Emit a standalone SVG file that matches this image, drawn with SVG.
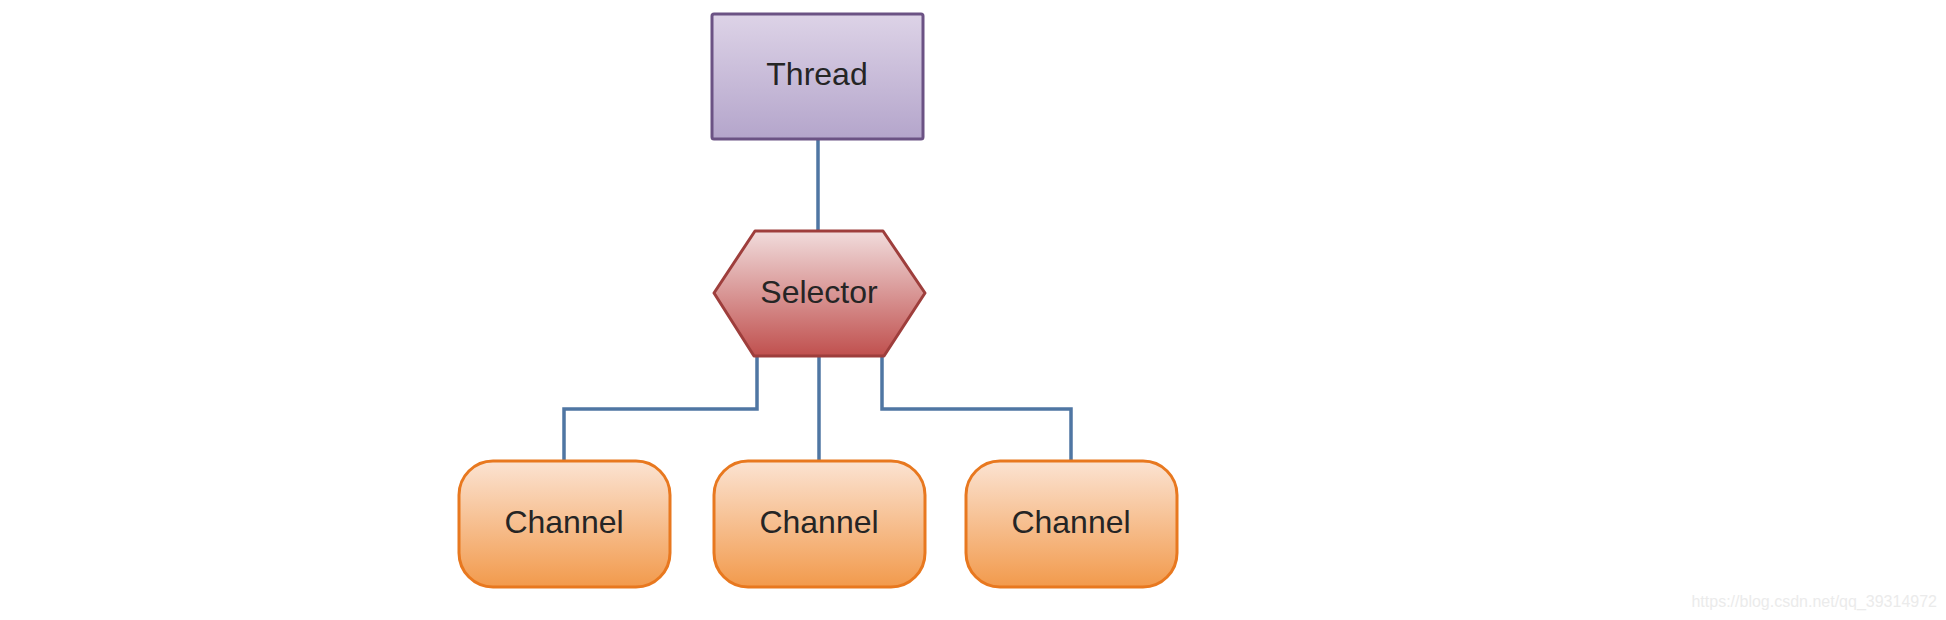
<svg xmlns="http://www.w3.org/2000/svg" width="1946" height="620" viewBox="0 0 1946 620">
<defs>
<linearGradient id="gThread" x1="0" y1="0" x2="0" y2="1"><stop offset="0" stop-color="#ddd3e7"/><stop offset="1" stop-color="#b4a5cb"/></linearGradient>
<linearGradient id="gSel" x1="0" y1="0" x2="0" y2="1"><stop offset="0" stop-color="#f1dcdc"/><stop offset="1" stop-color="#c0504e"/></linearGradient>
<linearGradient id="gCh" x1="0" y1="0" x2="0" y2="1"><stop offset="0" stop-color="#fbe3d2"/><stop offset="1" stop-color="#f29a4c"/></linearGradient>
</defs>
<style>
.lbl{font-family:"Liberation Sans",Arial,sans-serif;font-size:32px;fill:#252525;text-anchor:middle}
.conn{fill:none;stroke:#4f76a3;stroke-width:3.5}
.ch{fill:url(#gCh);stroke:#e8781f;stroke-width:3}
</style>
<rect width="1946" height="620" fill="#ffffff"/>
<g id="connectors">
<path class="conn" d="M818 140 V231"/>
<path class="conn" d="M757 356 V409 H564 V461"/>
<path class="conn" d="M819 356 V461"/>
<path class="conn" d="M882 356 V409 H1071 V461"/>
</g>
<g id="thread">
<rect x="712" y="14" width="211" height="125" rx="2" fill="url(#gThread)" stroke="#6b5284" stroke-width="3"/>
<text class="lbl" x="817" y="85">Thread</text>
</g>
<g id="selector">
<polygon points="755,231 883,231 925,293 884,356 754,356 714,293" fill="url(#gSel)" stroke="#9e3e3c" stroke-width="3" stroke-linejoin="round"/>
<text class="lbl" x="819" y="303">Selector</text>
</g>
<g id="channel1">
<rect class="ch" x="459" y="461" width="211" height="126" rx="34"/>
<text class="lbl" x="564" y="533">Channel</text>
</g>
<g id="channel2">
<rect class="ch" x="714" y="461" width="211" height="126" rx="34"/>
<text class="lbl" x="819" y="533">Channel</text>
</g>
<g id="channel3">
<rect class="ch" x="966" y="461" width="211" height="126" rx="34"/>
<text class="lbl" x="1071" y="533">Channel</text>
</g>
<text x="1937" y="607" font-family="Liberation Sans,Arial,sans-serif" font-size="16" fill="#ebebeb" text-anchor="end">https://blog.csdn.net/qq_39314972</text>
</svg>
